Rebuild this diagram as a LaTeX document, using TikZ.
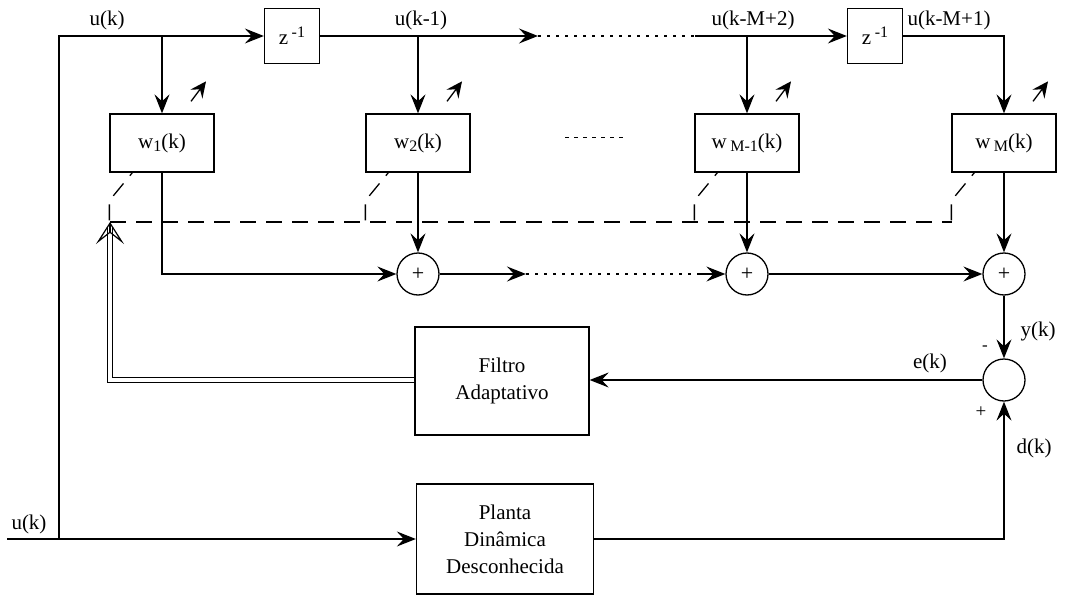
\documentclass[tikz,border=0pt]{standalone}
\usepackage{fontspec}
\setmainfont{Liberation Serif}
\usetikzlibrary{arrows.meta}
\newcommand{\lowsub}[1]{\raisebox{-0.4ex}{\fontsize{16}{16}\selectfont #1}}
\newcommand{\highsup}[1]{\raisebox{0.7ex}{\fontsize{16}{16}\selectfont #1}}

\begin{document}
\begin{tikzpicture}[x=1pt, y=-1pt,
   line width=1.3pt,
   >={Stealth[length=19pt,width=15pt,inset=7pt]},
   every node/.style={font=\fontsize{21}{27}\selectfont, inner sep=0pt},
   delay/.style={draw, minimum width=55pt, minimum height=55pt},
   weight/.style={draw, minimum width=104pt, minimum height=58pt},
   block/.style={draw, align=center, minimum height=108pt},
   summer/.style={draw, circle, minimum size=42pt, font=\fontsize{22}{22}\selectfont},
   adapt/.style={->, >={Stealth[length=16pt,width=15pt,inset=6pt]}},
   dots/.style={dash pattern=on 3pt off 6pt},
   tune/.style={dash pattern=on 16pt off 10pt}]

\useasboundingbox (0,0) rectangle (1080,597);

\node[delay] (z1) at (292,36) {z\,\highsup{-1}};
\node[delay] (z2) at (875,36) {z\,\highsup{-1}};

\node[weight] (w1) at (162,143) {w\lowsub{1}(k)};
\node[weight] (w2) at (418,143) {w\lowsub{2}(k)};
\node[weight] (wm1) at (747,143) {w\,\lowsub{M-1}(k)};
\node[weight] (wm) at (1004,143) {w\,\lowsub{M}(k)};

\node[summer] (c1) at (418,274) {+};
\node[summer] (c2) at (747,274) {+};
\node[summer] (c3) at (1004,274) {+};
\node[summer] (c4) at (1004,380) {};

\node[block, minimum width=174pt] (filtro) at (502,381) {Filtro\\Adaptativo};
\node[block, minimum width=177pt, minimum height=110pt] (planta) at (505,539)
   {Planta\\Dinâmica\\Desconhecida};

\node (uk) at (107,20) {u(k)};
\node (uk1) at (421,20) {u(k-1)};
\node (ukm2) at (753,20) {u(k-M+2)};
\node (ukm1) at (949,20) {u(k-M+1)};
\node (ukin) at (29,524) {u(k)};
\node (yk) at (1038,331) {y(k)};
\node[font=\fontsize{17}{17}\selectfont] (minus) at (985,348) {-};
\node (ek) at (930,363) {e(k)};
\node[font=\fontsize{19}{19}\selectfont] (plus) at (981,412) {+};
\node (dk) at (1034,448) {d(k)};

\coordinate (in) at (7,539);
\coordinate (split) at (59,539);
\coordinate (dotA) at (538,36);
\coordinate (dotB) at (695,36);
\coordinate (sumA) at (526,274);
\coordinate (sumB) at (700,274);
\coordinate (tuneL) at (110,222);
\coordinate (tuneR) at (952,222);

% delay line
\draw[->] (in) -- (planta.west);
\draw[->] (split) |- (z1);
\draw[->] (w1 |- z1) -- (w1);
\draw[->] (z1) -- (dotA);
\draw[dots] (dotA) -- (dotB);
\draw[->] (dotB) -- (z2);
\draw[->] (w2 |- z1) -- (w2);
\draw[->] (wm1 |- z1) -- (wm1);
\draw[->] (z2) -| (wm);

% sums
\draw[->] (w1) |- (c1);
\draw[->] (w2) -- (c1);
\draw[->] (c1) -- (sumA);
\draw[dots] (sumA) -- (sumB);
\draw[->] (sumB) -- (c2);
\draw[->] (wm1) -- (c2);
\draw[->] (c2) -- (c3);
\draw[->] (wm) -- (c3);
\draw[->] (c3) -- (c4);
\draw[->] (c4) -- (c4 -| filtro.east);
\draw[->] (planta) -| (c4);
\draw[dash pattern=on 4pt off 5pt, line width=1pt] (565,137) -- (623,137);

% adaptation
\draw[double, double distance=3.5pt, line width=0.9pt] (filtro.west |- c4) -| ([yshift=-6pt]tuneL);
\draw[line width=1.2pt, -{Stealth[open,length=22pt,width=28pt,inset=11pt]}]
   ([yshift=-1pt]tuneL) -- (tuneL);
\draw[tune] (tuneL) -- (tuneR);
\foreach \w in {w1,w2,wm1,wm} {
  \draw[tune, dash phase=12pt] ([xshift=23pt]\w.south west) -- ([yshift=-28pt]\w.south west)
     -- (\w.south west |- tuneL);
  \draw[adapt] ([xshift=29pt,yshift=12pt]\w.north) -- ++(15,-20);
}

\end{tikzpicture}
\end{document}
